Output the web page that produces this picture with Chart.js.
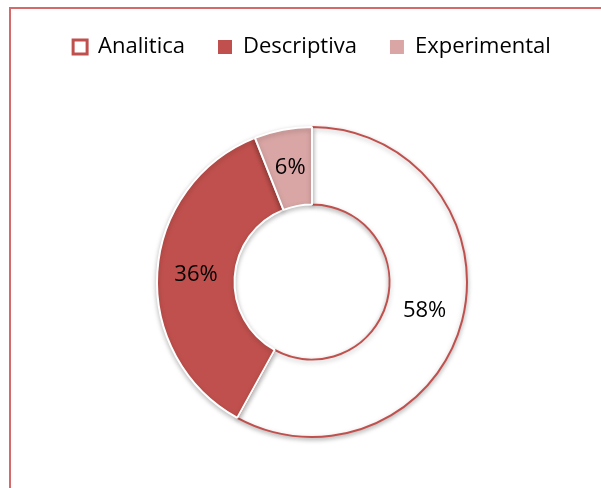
<!DOCTYPE html>
<html>
<head>
<meta charset="utf-8">
<script src="https://cdn.jsdelivr.net/npm/chart.js@4.4.0/dist/chart.umd.min.js"></script>
<style>
  html, body { margin: 0; padding: 0; background: #fff; }
  #wrap { position: relative; width: 601px; height: 488px; }
  #frame { position: absolute; left: 9px; top: 7px; right: -5px; bottom: -5px; border-left: 2px solid #d46a6a; border-top: 2px solid #d46a6a; }
  canvas { position: absolute; left: 0; top: 0; }
</style>
</head>
<body>
<div id="wrap">
  <div id="frame"></div>
  <canvas id="chart" width="601" height="488"></canvas>
</div>
<script>
const categories = ["Analitica", "Descriptiva", "Experimental"];
const percentValues = [58, 36, 6];
const sliceColors = ["#ffffff", "#c0504d", "#d9a6a5"];
const sliceBorders = ["#c0504d", "#ffffff", "#ffffff"];

const fontFamily = "'Open Sans', sans-serif";

// labels drawn in the middle of each slice
const sliceLabels = {
    id: 'sliceLabels',
    afterDatasetsDraw(chart) {
        const ctx = chart.ctx;
        const meta = chart.getDatasetMeta(0);
        ctx.save();
        ctx.font = "22px " + fontFamily;
        ctx.fillStyle = "#000";
        ctx.textAlign = "center";
        ctx.textBaseline = "middle";
        meta.data.forEach((arc, i) => {
            const pos = arc.tooltipPosition();
            ctx.fillText(percentValues[i] + "%", pos.x, pos.y);
        });
        ctx.restore();
    }
};

// soft drop shadow under the ring
const ringShadow = {
    id: 'ringShadow',
    beforeDatasetsDraw(chart) {
        const ctx = chart.ctx;
        ctx.save();
        ctx.shadowColor = 'rgba(0,0,0,0.25)';
        ctx.shadowBlur = 5;
        ctx.shadowOffsetX = 0;
        ctx.shadowOffsetY = 2;
    },
    afterDatasetsDraw(chart) {
        chart.ctx.restore();
    }
};

// extra room between the legend and the ring
const legendGap = {
    id: 'legendGap',
    beforeInit(chart) {
        const fit = chart.legend.fit;
        chart.legend.fit = function () {
            fit.bind(chart.legend)();
            this.height += 58;
        };
    }
};

const chart = new Chart('chart', {
    type: 'doughnut',
    data: {
        labels: categories,
        datasets: [{
            data: percentValues,
            backgroundColor: sliceColors,
            borderColor: sliceBorders,
            borderWidth: 2,
            hoverOffset: 0
        }]
    },
    plugins: [legendGap, ringShadow, sliceLabels],
    options: {
        responsive: false,
        animation: false,
        cutout: '50%',
        layout: {
            padding: { top: 3, bottom: 50, left: 23, right: 0 }
        },
        plugins: {
            tooltip: { enabled: false },
            legend: {
                position: 'top',
                labels: {
                    boxWidth: 14,
                    boxHeight: 14,
                    padding: 33,
                    color: '#000',
                    font: { family: fontFamily, size: 22 },
                    generateLabels(chart) {
                        return categories.map((c, i) => ({
                            text: c,
                            fillStyle: sliceColors[i],
                            strokeStyle: '#c0504d',
                            lineWidth: i === 0 ? 3 : 0,
                            hidden: false,
                            index: i
                        }));
                    }
                }
            }
        }
    }
});
</script>
</body>
</html>
